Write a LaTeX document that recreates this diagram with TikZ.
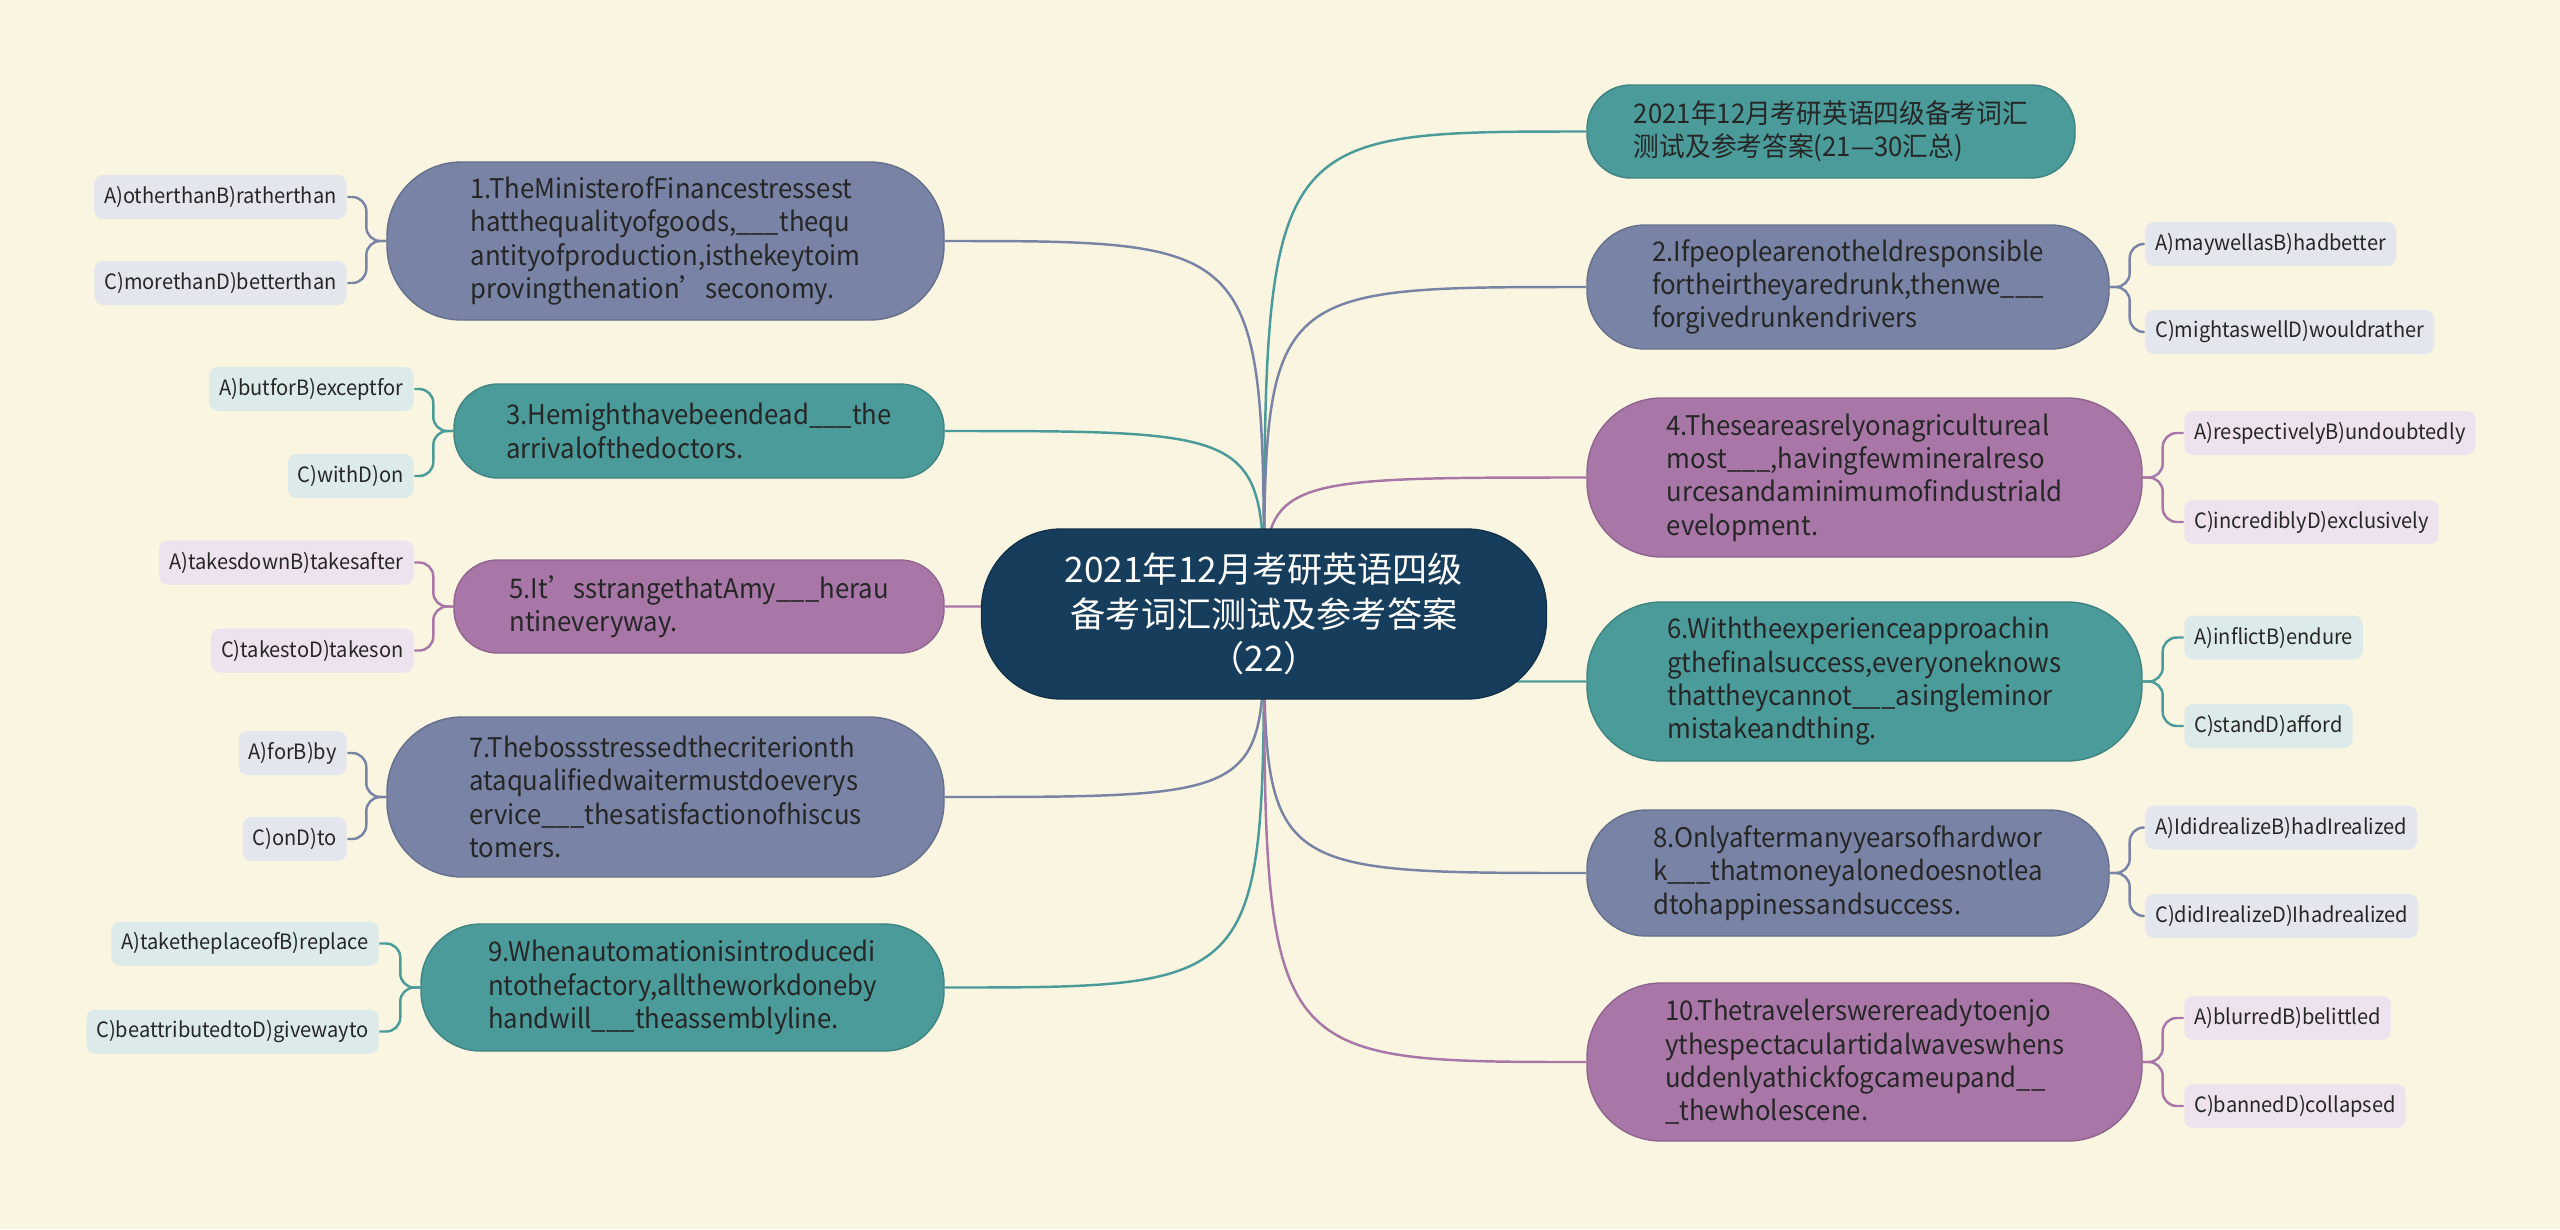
\documentclass[tikz,border=0pt]{standalone}
\usepackage{fontspec}
\setmainfont{Noto Sans CJK SC}
\newfontfamily\narrowfont[FakeStretch=0.95]{Noto Sans CJK SC}
\usetikzlibrary{positioning}
\definecolor{paper}{RGB}{250,245,224}
\definecolor{rootBlue}{RGB}{23,61,92}
\definecolor{slate}{RGB}{120,131,165}
\definecolor{sea}{RGB}{74,155,153}
\definecolor{plum}{RGB}{168,119,168}
\definecolor{slateLeaf}{RGB}{228,230,238}
\definecolor{seaLeaf}{RGB}{220,235,233}
\definecolor{plumLeaf}{RGB}{238,226,238}
\definecolor{ink}{RGB}{38,38,38}
\pgfdeclarelayer{bg}
\pgfdeclarelayer{links}
\pgfsetlayers{bg,links,main}

\begin{document}
\begin{tikzpicture}[
  root/.style={fill=rootBlue, draw=rootBlue!80!black, text=white, align=center,
    minimum width=5.65cm, minimum height=1.7cm, rounded corners=0.8cm,
    font=\fontsize{10}{12.6}\selectfont},
  branch/.style={fill=#1, draw=#1!85!black, line width=0.4pt, text=ink, align=left,
    font=\narrowfont\fontsize{7.7}{9.5}\selectfont},
  pill/.style 2 args={minimum width=#1cm, minimum height=#2cm, rounded corners=#2*0.47cm},
  leaf/.style={fill=#1, rounded corners=2.5pt, text=ink, minimum height=0.44cm,
    inner xsep=0.1cm, inner ysep=0pt, font=\narrowfont\fontsize{6.0}{7}\selectfont},
  link/.style={draw=#1, line width=0.7pt}
]

% Background
\begin{pgfonlayer}{bg}
\fill[paper] (0,0) rectangle (25.6,-12.29);
\end{pgfonlayer}
\useasboundingbox (0,0) rectangle (25.6,-12.29);

% Central topic
\node[root] (root) at (12.64,-6.14) {2021年12月考研英语四级\\备考词汇测试及参考答案\\（22）};

% Left branches
\node[branch=slate, pill={5.57}{1.58}] (n1) at (6.655,-2.41)
  {1.TheMinisterofFinancestressest\\hatthequalityofgoods,\_\_\_thequ\\antityofproduction,isthekeytoim\\provingthenation’seconomy.};
\node[branch=sea, pill={4.90}{0.94}] (n3) at (6.99,-4.31)
  {3.Hemighthavebeendead\_\_\_the\\arrivalofthedoctors.};
\node[branch=plum, pill={4.90}{0.93}] (n5) at (6.99,-6.065)
  {5.It’sstrangethatAmy\_\_\_herau\\ntineveryway.};
\node[branch=slate, pill={5.57}{1.60}] (n7) at (6.655,-7.97)
  {7.Thebossstressedthecriterionth\\ataqualifiedwaitermustdoeverys\\ervice\_\_\_thesatisfactionofhiscus\\tomers.};
\node[branch=sea, pill={5.23}{1.27}] (n9) at (6.825,-9.875)
  {9.Whenautomationisintroducedi\\ntothefactory,alltheworkdoneby\\handwill\_\_\_theassemblyline.};

% Right branches
\node[branch=sea, pill={4.88}{0.93}] (s) at (18.31,-1.315)
  {2021年12月考研英语四级备考词汇\\测试及参考答案(21—30汇总)};
\node[branch=slate, pill={5.22}{1.24}] (n2) at (18.48,-2.87)
  {2.Ifpeoplearenotheldresponsible\\fortheirtheyaredrunk,thenwe\_\_\_\\forgivedrunkendrivers};
\node[branch=plum, pill={5.55}{1.59}] (n4) at (18.645,-4.775)
  {4.Theseareasrelyonagricultureal\\most\_\_\_,havingfewmineralreso\\urcesandaminimumofindustriald\\evelopment.};
\node[branch=sea, pill={5.55}{1.59}] (n6) at (18.645,-6.815)
  {6.Withtheexperienceapproachin\\gthefinalsuccess,everyoneknows\\thattheycannot\_\_\_asingleminor\\mistakeandthing.};
\node[branch=slate, pill={5.22}{1.26}] (n8) at (18.48,-8.73)
  {8.Onlyaftermanyyearsofhardwor\\k\_\_\_thatmoneyalonedoesnotlea\\dtohappinessandsuccess.};
\node[branch=plum, pill={5.55}{1.58}] (n10) at (18.645,-10.62)
  {10.Thetravelerswerereadytoenjo\\ythespectaculartidalwaveswhens\\uddenlyathickfogcameupand\_\_\\\_thewholescene.};

% Answer options, left side
\node[leaf=slateLeaf, left=0.39cm of n1, yshift=0.44cm] (l1a) {A)otherthanB)ratherthan};
\node[leaf=slateLeaf, left=0.39cm of n1, yshift=-0.42cm] (l1c) {C)morethanD)betterthan};
\node[leaf=seaLeaf, left=0.39cm of n3, yshift=0.42cm] (l3a) {A)butforB)exceptfor};
\node[leaf=seaLeaf, left=0.39cm of n3, yshift=-0.45cm] (l3c) {C)withD)on};
\node[leaf=plumLeaf, left=0.39cm of n5, yshift=0.44cm] (l5a) {A)takesdownB)takesafter};
\node[leaf=plumLeaf, left=0.39cm of n5, yshift=-0.44cm] (l5c) {C)takestoD)takeson};
\node[leaf=slateLeaf, left=0.39cm of n7, yshift=0.44cm] (l7a) {A)forB)by};
\node[leaf=slateLeaf, left=0.39cm of n7, yshift=-0.42cm] (l7c) {C)onD)to};
\node[leaf=seaLeaf, left=0.41cm of n9, yshift=0.44cm] (l9a) {A)taketheplaceofB)replace};
\node[leaf=seaLeaf, left=0.41cm of n9, yshift=-0.44cm] (l9c) {C)beattributedtoD)givewayto};

% Answer options, right side
\node[leaf=slateLeaf, right=0.35cm of n2, yshift=0.43cm] (l2a) {A)maywellasB)hadbetter};
\node[leaf=slateLeaf, right=0.35cm of n2, yshift=-0.45cm] (l2c) {C)mightaswellD)wouldrather};
\node[leaf=plumLeaf, right=0.41cm of n4, yshift=0.445cm] (l4a) {A)respectivelyB)undoubtedly};
\node[leaf=plumLeaf, right=0.41cm of n4, yshift=-0.445cm] (l4c) {C)incrediblyD)exclusively};
\node[leaf=seaLeaf, right=0.41cm of n6, yshift=0.44cm] (l6a) {A)inflictB)endure};
\node[leaf=seaLeaf, right=0.41cm of n6, yshift=-0.445cm] (l6c) {C)standD)afford};
\node[leaf=slateLeaf, right=0.35cm of n8, yshift=0.455cm] (l8a) {A)IdidrealizeB)hadIrealized};
\node[leaf=slateLeaf, right=0.35cm of n8, yshift=-0.43cm] (l8c) {C)didIrealizeD)Ihadrealized};
\node[leaf=plumLeaf, right=0.41cm of n10, yshift=0.44cm] (l10a) {A)blurredB)belittled};
\node[leaf=plumLeaf, right=0.41cm of n10, yshift=-0.44cm] (l10c) {C)bannedD)collapsed};

% Connectors
\begin{pgfonlayer}{links}
\foreach \n/\c in {n1/slate,n3/sea,n5/plum,n7/slate,n9/sea}
  \draw[link=\c] (root.center) .. controls (root.center |- \n.east) .. (\n.east);
\foreach \n/\c in {s/sea,n2/slate,n4/plum,n6/sea,n8/slate,n10/plum}
  \draw[link=\c] (root.center) .. controls (root.center |- \n.west) .. (\n.west);
\foreach \n/\c in {1/slate,3/sea,5/plum,7/slate,9/sea}
  \foreach \k in {a,c}
    \draw[link=\c, rounded corners=4pt] (n\n.west) -- ++(-0.2,0) |- (l\n\k.east);
\foreach \n/\c in {2/slate,4/plum,6/sea,8/slate,10/plum}
  \foreach \k in {a,c}
    \draw[link=\c, rounded corners=4pt] (n\n.east) -- ++(0.2,0) |- (l\n\k.west);
\end{pgfonlayer}

\end{tikzpicture}
\end{document}
